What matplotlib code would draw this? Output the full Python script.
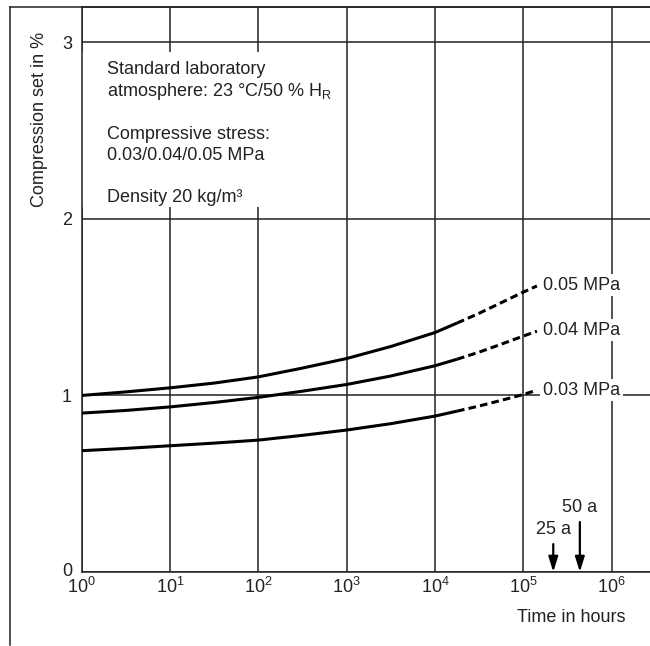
import matplotlib
matplotlib.use("Agg")
import matplotlib.pyplot as plt
from matplotlib.lines import Line2D
from matplotlib.transforms import ScaledTranslation

plt.rcParams['font.family'] = ['Liberation Sans', 'DejaVu Sans']
plt.rcParams['mathtext.fontset'] = 'custom'
plt.rcParams['mathtext.rm'] = 'Liberation Sans'
plt.rcParams['mathtext.it'] = 'Liberation Sans:italic'
plt.rcParams['mathtext.bf'] = 'Liberation Sans:bold'
plt.rcParams['lines.scale_dashes'] = False

# ---- data ----
t_solid = [1, 3.16, 10, 31.6, 100, 316, 1000, 3160, 10000, 17800]
cs_005_solid = [1.00, 1.02, 1.043, 1.07, 1.105, 1.155, 1.209, 1.277, 1.356, 1.41]
cs_004_solid = [0.90, 0.915, 0.935, 0.96, 0.989, 1.024, 1.062, 1.11, 1.168, 1.205]
cs_003_solid = [0.687, 0.70, 0.715, 0.73, 0.747, 0.774, 0.804, 0.84, 0.883, 0.911]

t_dashed = [17800, 31600, 56200, 100000, 143000]
cs_005_dashed = [1.41, 1.465, 1.525, 1.585, 1.62]
cs_004_dashed = [1.205, 1.245, 1.29, 1.336, 1.364]
cs_003_dashed = [0.911, 0.94, 0.972, 1.005, 1.03]

series_labels = ["0.05 MPa", "0.04 MPa", "0.03 MPa"]
label_y = [1.624, 1.37, 1.03]
label_x = 167500

x_ticks = [1, 10, 100, 1000, 10000, 100000, 1000000]
x_ticklabels = [r"$\mathregular{10^{%d}}$" % i for i in range(7)]
y_ticks = [0, 1, 2, 3]

arrow_times = [219000, 438000]     # 25 a, 50 a in hours
arrow_labels = ["25 a", "50 a"]
arrow_tops = [0.158, 0.283]
arrow_text_y = [0.238, 0.368]

info_lines = ["Standard laboratory",
              "atmosphere: 23 °C/50 % H$_\\mathregular{R}$",
              "Compressive stress:",
              "0.03/0.04/0.05 MPa",
              "Density 20 kg/m³"]

# ---- figure ----
W, H = 650, 646
fig = plt.figure(figsize=(W / 100, H / 100), dpi=100)
left = 81.7 / W
bottom = (H - 572) / H
top = (H - 7) / H
ax = fig.add_axes([left, bottom, 1 - left, top - bottom])

ink = '#222222'
fs = 13

ax.set_xscale('log')
ax.set_xlim(1, 10 ** ((650 - 81.7) / 88.3))
ax.set_ylim(0, 3.2)
ax.set_xticks(x_ticks)
ax.set_xticklabels(x_ticklabels, fontsize=fs, color=ink)
ax.minorticks_off()
ax.set_yticks(y_ticks)
ax.set_yticklabels([str(v) for v in y_ticks], fontsize=fs, color=ink)
ax.tick_params(axis='both', length=0)
ax.tick_params(axis='x', pad=3.5)
ax.tick_params(axis='y', pad=7)
lbl0 = ax.get_yticklabels()[0]
lbl0.set_transform(lbl0.get_transform() +
                   ScaledTranslation(0, 3 / 100, fig.dpi_scale_trans))

for s in ['left', 'bottom', 'top']:
    ax.spines[s].set_linewidth(1.1)
    ax.spines[s].set_color(ink)
ax.spines['right'].set_visible(False)

ax.grid(True, which='major', color=ink, linewidth=1.1, zorder=0)
ax.set_axisbelow(True)

lw = 2.2
for ys, yd in [(cs_005_solid, cs_005_dashed),
               (cs_004_solid, cs_004_dashed),
               (cs_003_solid, cs_003_dashed)]:
    ax.plot(t_solid, ys, color='black', lw=lw, solid_capstyle='butt', zorder=3)
    ax.plot(t_dashed, yd, color='black', lw=lw, linestyle=(0, (5.5, 3)),
            dash_capstyle='butt', zorder=3)

for lab, yy in zip(series_labels, label_y):
    ax.text(label_x, yy, lab, fontsize=fs, color=ink, ha='left', va='center',
            zorder=4,
            bbox=dict(facecolor='white', edgecolor='none',
                      boxstyle='square,pad=0.15'))

for t, lab, yt, ytx in zip(arrow_times, arrow_labels, arrow_tops, arrow_text_y):
    ax.annotate('', xy=(t, 0), xytext=(t, yt),
                arrowprops=dict(arrowstyle='-|>,head_length=0.9,head_width=0.28',
                                color='black', lw=1.6, shrinkA=0, shrinkB=0),
                zorder=4)
    ax.text(t, ytx, lab, fontsize=fs, color=ink, ha='center', va='center')

# white panel behind the info text (cuts the grid lines)
ax.add_patch(plt.Rectangle((82 / W, (H - 207) / H), (340 - 82) / W, (207 - 52) / H,
                           transform=fig.transFigure, facecolor='white',
                           edgecolor='none', zorder=2))
info_baselines = [74, 96, 139, 160, 202]
for txt, yb in zip(info_lines, info_baselines):
    fig.text(107 / W, (H - yb) / H, txt, fontsize=fs, color=ink,
             ha='left', va='baseline', zorder=5)

fig.text(39.5 / W, 1 - 119.5 / H, "Compression set in %", rotation=90,
         ha='center', va='center', fontsize=fs, color=ink)
fig.text(571 / W, 1 - 617 / H, "Time in hours", ha='center', va='center',
         fontsize=fs, color=ink)

# outer frame
x0 = 10 / W
y_top = 1 - 7 / H
fig.add_artist(Line2D([x0, x0], [y_top, 1 - 645 / H], transform=fig.transFigure,
                      color=ink, lw=1.1))
fig.add_artist(Line2D([x0, 1], [y_top, y_top], transform=fig.transFigure,
                      color=ink, lw=1.1))

fig.savefig("out.png", dpi=100)
